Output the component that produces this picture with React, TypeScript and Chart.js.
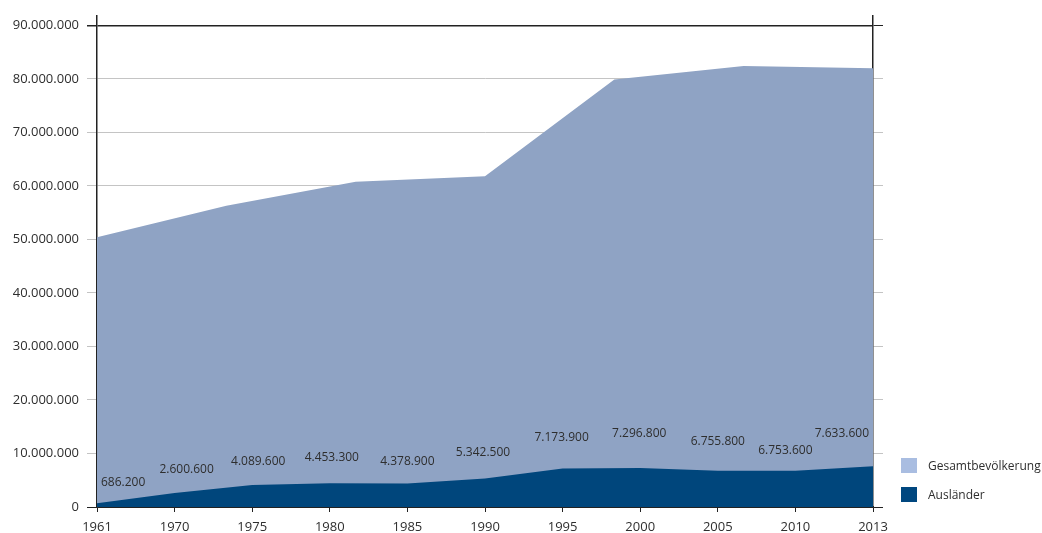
import React, { useEffect, useRef } from "react";
import { Chart, registerables } from "chart.js";

Chart.register(...registerables);

// ---- data ----
const yearLabels = ["1961", "1970", "1975", "1980", "1985", "1990", "1995", "2000", "2005", "2010", "2013"];
const auslaender = [686200, 2600600, 4089600, 4453300, 4378900, 5342500, 7173900, 7296800, 6755800, 6753600, 7633600];
// Gesamtbevölkerung is drawn with 7 evenly spaced support points across the same span
const gesamtSupport = ["1961", "1969", "1978", "1987", "1996", "2004", "2013"];
const gesamt = [50400000, 56300000, 60800000, 61800000, 79900000, 82400000, 82000000];
const yTicks = [0, 10000000, 20000000, 30000000, 40000000, 50000000, 60000000, 70000000, 80000000, 90000000];

const seriesNames = ["Gesamtbevölkerung", "Ausländer"];
const FONT = "'Open Sans', 'Noto Sans', sans-serif";
const LIGHT = "#8fa3c4";
const DARK = "#00467c";
const LIGHT_SWATCH = "#a9bde1";
const DARK_SWATCH = "#00477f";
const TEXT = "#2e2e2e";

const fmt = (n: number) => String(n).replace(/\B(?=(\d{3})+(?!\d))/g, ".");

// label nudges (pixels) relative to each Ausländer point
const labelNudges: [number, number][] = [
  [0, -21], [12, -24], [6, -24], [2, -26], [0, -22], [-2, -26],
  [-1, -31], [-1, -34], [0, -29], [-10, -20], [0, -33],
];

const valueLabelPlugin = {
  id: "valueLabels",
  afterDatasetsDraw(chart: any) {
    const meta = chart.getDatasetMeta(1);
    const ctx = chart.ctx;
    const area = chart.chartArea;
    ctx.save();
    ctx.font = `12px ${FONT}`;
    ctx.fillStyle = TEXT;
    ctx.textAlign = "center";
    ctx.textBaseline = "middle";
    meta.data.forEach((pt: any, i: number) => {
      const text = fmt(auslaender[i]);
      const w = ctx.measureText(text).width;
      const [dx, dy] = labelNudges[i] || [0, -26];
      let x = pt.x + dx;
      x = Math.max(area.left + 4 + w / 2, Math.min(area.right - 4 - w / 2, x));
      ctx.fillText(text, x, pt.y + dy);
    });
    ctx.restore();
  },
};

const keepTicks = (scale: any) => {
  scale.ticks = yTicks.map((v) => ({ value: v }));
};

const gridColor = (c: any) =>
  c.tick && (c.tick.value === 0 || c.tick.value === 90000000) ? "#222" : "#c4c4c4";
const gridWidth = (c: any) =>
  c.tick && c.tick.value === 90000000 ? 1.5 : 1;

export default function App() {
  const ref = useRef<HTMLCanvasElement>(null);

  useEffect(() => {
    if (!ref.current) return;
    const chart = new Chart(ref.current, {
      type: "line",
      data: {
        datasets: [
          {
            label: seriesNames[0],
            data: gesamt,
            xAxisID: "xG",
            yAxisID: "y",
            fill: "origin",
            backgroundColor: LIGHT,
            borderColor: "rgba(0,0,0,0)",
            borderWidth: 0,
            pointRadius: 0,
            tension: 0,
            order: 2,
          },
          {
            label: seriesNames[1],
            data: auslaender,
            xAxisID: "x",
            yAxisID: "y",
            fill: "origin",
            backgroundColor: DARK,
            borderColor: "rgba(0,0,0,0)",
            borderWidth: 0,
            pointRadius: 0,
            tension: 0,
            order: 1,
          },
        ],
      },
      options: {
        responsive: false,
        animation: false,
        devicePixelRatio: 1,
        layout: { padding: { top: 15, right: 159, left: 0, bottom: 0 } },
        plugins: {
          legend: { display: false },
          tooltip: { enabled: false },
        },
        scales: {
          x: {
            type: "category",
            labels: yearLabels,
            offset: false,
            position: "bottom",
            grid: { drawOnChartArea: false, tickLength: 5, tickColor: "#222", offset: false },
            border: { display: true, color: "#222", width: 1.5 },
            ticks: { font: { family: FONT, size: 13 }, color: TEXT, padding: 7, maxRotation: 0, autoSkip: false },
            afterFit: (s: any) => { s.height = 26; },
          },
          xG: {
            type: "category",
            labels: gesamtSupport,
            offset: false,
            display: false,
          },
          y: {
            type: "linear",
            position: "left",
            min: 0,
            max: 91800000,
            afterBuildTicks: keepTicks,
            grid: { color: gridColor, lineWidth: gridWidth, tickLength: 10, tickColor: gridColor },
            border: { display: true, color: "#222", width: 1.5 },
            ticks: {
              font: { family: FONT, size: 13 },
              color: TEXT,
              padding: 8,
              callback: (v: any) => fmt(Number(v)),
            },
            afterFit: (s: any) => { s.width = 97; },
          },
          yR: {
            type: "linear",
            position: "right",
            min: 0,
            max: 91800000,
            afterBuildTicks: keepTicks,
            grid: { drawOnChartArea: false, tickLength: 10, tickColor: gridColor, color: gridColor },
            border: { display: true, color: "#222", width: 1.5 },
            ticks: { display: false },
            afterFit: (s: any) => { s.width = 10; },
          },
        },
      },
      plugins: [valueLabelPlugin],
    } as any);
    return () => chart.destroy();
  }, []);

  const legendItem = (top: number, color: string, text: string) => (
    <div style={{ position: "absolute", left: 901, top, display: "flex", alignItems: "center" }}>
      <div style={{ width: 16, height: 15, background: color }} />
      <span style={{ marginLeft: 11, font: `12px ${FONT}`, color: TEXT, whiteSpace: "nowrap", lineHeight: "15px" }}>{text}</span>
    </div>
  );

  return (
    <div style={{ position: "fixed", left: 0, top: 0, width: 1042, height: 533, background: "#fff", overflow: "hidden" }}>
      <canvas ref={ref} width={1042} height={533} style={{ display: "block" }} />
      {legendItem(458, LIGHT_SWATCH, seriesNames[0])}
      {legendItem(487, DARK_SWATCH, seriesNames[1])}
    </div>
  );
}
